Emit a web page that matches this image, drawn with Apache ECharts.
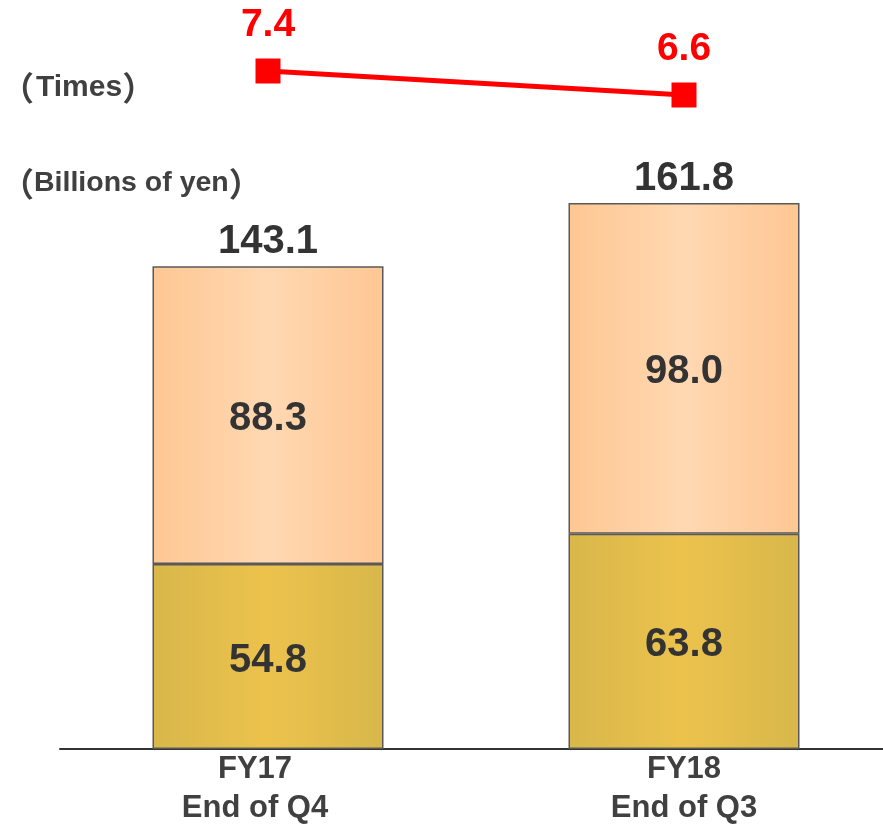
<!DOCTYPE html>
<html><head><meta charset="utf-8">
<script src="https://cdn.jsdelivr.net/npm/echarts@6/dist/echarts.min.js"></script>
<style>html,body{margin:0;padding:0;background:#fff;overflow:hidden}#c{width:883px;height:824px}</style>
</head><body><div id="c"></div>
<script>
var categories = ['FY17\nEnd of Q4', 'FY18\nEnd of Q3'];
var lowerValues = [54.8, 63.8];
var upperValues = [88.3, 98.0];
var timesValues = [7.4, 6.6];
var unitTimes = 'Times';
var unitYen = 'Billions of yen';

var FONT = '"Liberation Sans", Arial, sans-serif';
var CJK = '"Noto Sans CJK JP", sans-serif';
var chart = echarts.init(document.getElementById('c'));
function grad(edge, mid) {
  return new echarts.graphic.LinearGradient(0, 0, 1, 0, [
    {offset: 0, color: edge}, {offset: 0.5, color: mid}, {offset: 1, color: edge}
  ]);
}
var totals = lowerValues.map(function (v, i) { return (v + upperValues[i]).toFixed(1); });
function unitTitle(txt, top, size, padL) {
  return {
    text: '{l|（}' + txt + '{r|）}', left: -4, top: top,
    textStyle: {fontFamily: FONT, fontSize: size, fontWeight: 'bold', color: '#404040',
      rich: {
        l: {fontFamily: CJK, fontSize: 33, fontWeight: 'bold', color: '#404040', padding: [0, padL, 0, 0]},
        r: {fontFamily: CJK, fontSize: 33, fontWeight: 'bold', color: '#404040', padding: [0, 0, 0, 0]}
      }}
  };
}
var catData = categories.map(function (c, i) {
  return i === 0 ? {value: c, textStyle: {padding: [0, 26, 0, 0]}} : c;
});

chart.setOption({
  animation: false,
  backgroundColor: '#fff',
  title: [unitTitle(unitTimes, 66, 30, 2), unitTitle(unitYen, 162, 28.5, 0)],
  grid: [
    {left: 60, right: -9, top: 0, bottom: 75, outerBoundsMode: 'none', containLabel: false},
    {left: 60, right: -9, top: 71, height: 24, outerBoundsMode: 'none', containLabel: false}
  ],
  xAxis: [
    {type: 'category', gridIndex: 0, data: catData,
     axisLine: {lineStyle: {color: '#333', width: 2}}, axisTick: {show: false},
     axisLabel: {fontFamily: FONT, fontSize: 31, fontWeight: 'bold', color: '#404040', lineHeight: 39, margin: 1}},
    {type: 'category', gridIndex: 1, data: categories, show: false}
  ],
  yAxis: [
    {type: 'value', gridIndex: 0, min: 0, max: 222, show: false, splitLine: {show: false}},
    {type: 'value', gridIndex: 1, min: 6.6, max: 7.4, show: false, splitLine: {show: false}}
  ],
  series: [
    {type: 'bar', stack: 's', xAxisIndex: 0, yAxisIndex: 0, barWidth: 231, data: lowerValues,
     itemStyle: {color: grad('#D8B74B', '#ECC24C'), borderColor: '#595959', borderWidth: 1.5},
     label: {show: true, position: 'inside', offset: [0, 4], fontFamily: FONT, fontSize: 40, fontWeight: 'bold', color: '#333',
             formatter: function (p) { return p.value.toFixed(1); }}},
    {type: 'bar', stack: 's', xAxisIndex: 0, yAxisIndex: 0, barWidth: 231, data: upperValues,
     itemStyle: {color: grad('#FEC793', '#FFD8B2'), borderColor: '#595959', borderWidth: 1.5},
     label: {show: true, position: 'inside', offset: [0, 4], fontFamily: FONT, fontSize: 40, fontWeight: 'bold', color: '#333',
             formatter: function (p) { return p.value.toFixed(1); }}},
    {type: 'bar', stack: 's', xAxisIndex: 0, yAxisIndex: 0, barWidth: 231, data: [0, 0],
     itemStyle: {color: 'transparent'}, silent: true,
     label: {show: true, position: 'top', distance: 4, fontFamily: FONT, fontSize: 40, fontWeight: 'bold', color: '#333',
             formatter: function (p) { return totals[p.dataIndex]; }}},
    {type: 'line', xAxisIndex: 1, yAxisIndex: 1, data: timesValues,
     symbol: 'rect', symbolSize: 25, lineStyle: {color: '#FF0000', width: 5}, itemStyle: {color: '#FF0000'},
     label: {show: true, position: 'top', distance: 14, fontFamily: FONT, fontSize: 39, fontWeight: 'bold', color: '#FF0000',
             formatter: function (p) { return p.value.toFixed(1); }}}
  ]
});
</script></body></html>
